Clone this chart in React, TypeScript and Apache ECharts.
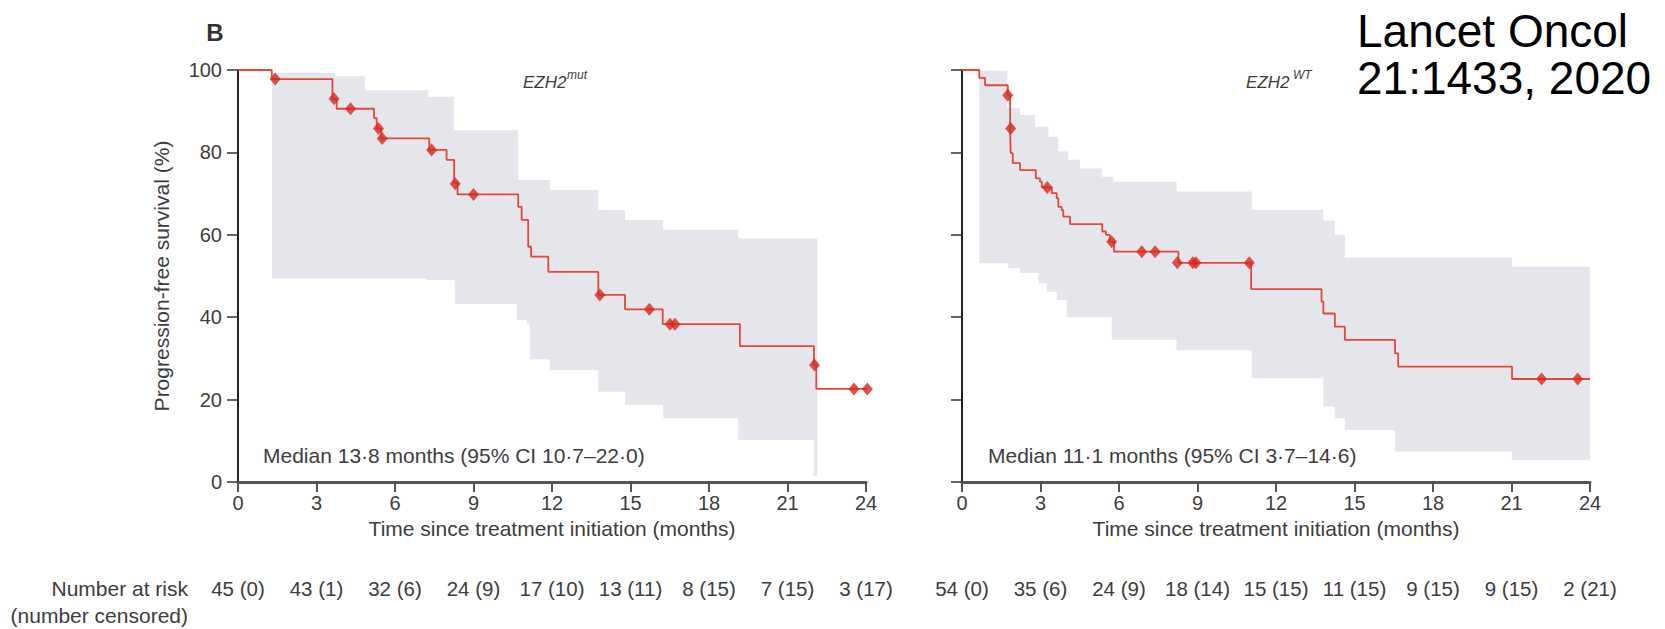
import React, { useEffect, useRef } from "react";
import * as echarts from "echarts";

// ---------------- data ----------------
const MONTH_MIN = 0;
const MONTH_MAX = 24;
const MONTH_STEP = 3;
const PFS_MIN = 0;
const PFS_MAX = 100;
const PFS_STEP = 20;

// EZH2 mutant (left panel): Kaplan-Meier steps (time in months, PFS % after the step)
const MUT_KM_TIME = [0, 1.29, 3.61, 3.77, 5.2, 5.3, 5.47, 7.31, 7.97, 8.26, 8.39, 10.71, 10.84, 11.09, 11.2, 11.86, 13.77, 14.79, 16.23, 19.18, 22.01, 22.1, 24.05];
const MUT_KM_PFS = [100, 97.8, 93.0, 90.6, 88.3, 85.8, 83.4, 80.6, 78.2, 72.6, 69.8, 66.8, 63.6, 57.1, 54.7, 51.0, 45.4, 41.9, 38.3, 33.0, 28.4, 22.6, 22.6];
const MUT_CENSOR_TIME = [1.42, 3.67, 4.3, 5.37, 5.51, 7.4, 8.3, 9.0, 13.83, 15.72, 16.51, 16.7, 22.03, 23.54, 24.05];
const MUT_CENSOR_PFS = [97.8, 93.0, 90.6, 85.8, 83.4, 80.6, 72.4, 69.8, 45.4, 41.9, 38.3, 38.3, 28.4, 22.6, 22.6];
const MUT_CI_UPPER_TIME = [1.3, 3.71, 4.85, 7.27, 8.25, 10.71, 11.92, 13.77, 14.79, 16.25, 19.12];
const MUT_CI_UPPER = [99.3, 98.5, 95.1, 93.5, 85.4, 73.3, 70.9, 66.0, 63.6, 61.2, 59.1];
const MUT_CI_LOWER_TIME = [1.3, 7.21, 8.29, 10.65, 11.03, 11.16, 11.92, 13.77, 14.79, 16.25, 19.12, 22.0];
const MUT_CI_LOWER = [49.4, 49.0, 43.2, 39.3, 38.5, 29.8, 27.2, 21.9, 18.7, 15.5, 10.2, 1.5];
const MUT_CI_END = 22.14;
const MUT_AT_RISK = ["45 (0)", "43 (1)", "32 (6)", "24 (9)", "17 (10)", "13 (11)", "8 (15)", "7 (15)", "3 (17)"];

// EZH2 wild type (right panel)
const WT_KM_TIME = [0, 0.66, 0.88, 1.75, 1.84, 1.86, 1.94, 2.22, 2.82, 2.98, 3.05, 3.43, 3.62, 3.68, 3.81, 3.87, 4.13, 5.36, 5.5, 5.65, 5.81, 8.27, 11.05, 13.74, 13.81, 14.25, 14.63, 16.55, 16.67, 21.02, 24.0];
const WT_KM_PFS = [100, 98.1, 96.3, 93.9, 85.8, 79.8, 77.4, 75.7, 73.7, 72.9, 71.5, 70.1, 68.9, 66.8, 66.0, 64.4, 62.6, 60.8, 60.0, 58.3, 55.9, 53.2, 46.8, 43.8, 40.9, 37.7, 34.5, 31.2, 28.0, 25.0, 25.0];
const WT_CENSOR_TIME = [1.75, 1.86, 3.26, 5.72, 6.87, 7.38, 8.23, 8.82, 8.94, 10.98, 22.15, 23.53];
const WT_CENSOR_PFS = [93.9, 85.8, 71.5, 58.3, 55.9, 55.9, 53.2, 53.2, 53.2, 53.2, 25.0, 25.0];
const WT_CI_UPPER_TIME = [0.66, 1.73, 2.22, 2.79, 3.3, 3.68, 4.06, 4.51, 5.34, 5.78, 8.2, 11.07, 13.81, 14.25, 14.63, 21.02];
const WT_CI_UPPER = [99.8, 90.7, 89.1, 86.2, 83.8, 80.2, 78.2, 76.1, 74.1, 72.9, 70.5, 66.0, 63.5, 60.0, 54.5, 52.3];
const WT_CI_LOWER_TIME = [0.66, 1.77, 2.22, 2.92, 3.24, 3.62, 4.0, 5.72, 8.2, 11.07, 13.81, 14.25, 14.63, 16.55, 21.02];
const WT_CI_LOWER = [53.1, 51.9, 50.7, 48.2, 46.2, 44.2, 40.0, 34.5, 32.0, 25.2, 18.3, 15.5, 12.6, 7.4, 5.3];
const WT_CI_END = 24.0;
const WT_AT_RISK = ["54 (0)", "35 (6)", "24 (9)", "18 (14)", "15 (15)", "11 (15)", "9 (15)", "9 (15)", "2 (21)"];

const MUT_MEDIAN = "Median 13·8 months (95% CI 10·7–22·0)";
const WT_MEDIAN = "Median 11·1 months (95% CI 3·7–14·6)";
const X_TITLE = "Time since treatment initiation (months)";
const Y_TITLE = "Progression-free survival (%)";

// ---------------- style ----------------
const FONT = '"Liberation Sans", Arial, sans-serif';
const TXT = "#3d3d3d";
const RED_LINE = "#e4473b";
const RED_MARK = "#d8271c";
const BAND = "#e5e6eb";

function pairs(t: number[], v: number[]) {
  return t.map((x, i) => [x, v[i]]);
}
function steps(t: number[], v: number[], end: number) {
  const out: number[][] = [];
  for (let i = 0; i < t.length; i++) {
    out.push([t[i], v[i]]);
    out.push([i + 1 < t.length ? t[i + 1] : end, v[i]]);
  }
  return out;
}
function band(ut: number[], uv: number[], lt: number[], lv: number[], end: number) {
  return steps(ut, uv, end).concat(steps(lt, lv, end).reverse());
}

function panelSeries(idx: number, kmT: number[], kmS: number[], cT: number[], cS: number[], poly: number[][]) {
  return [
    {
      type: "custom",
      xAxisIndex: idx,
      yAxisIndex: idx,
      silent: true,
      z: 1,
      clip: false,
      data: [[0, 0]],
      renderItem: (_p: any, api: any) => ({
        type: "polygon",
        shape: { points: poly.map((p) => api.coord(p)) },
        style: { fill: BAND },
      }),
    },
    {
      type: "line",
      xAxisIndex: idx,
      yAxisIndex: idx,
      step: "end",
      showSymbol: false,
      clip: false,
      z: 3,
      data: pairs(kmT, kmS),
      lineStyle: { color: RED_LINE, width: 1.8 },
    },
    {
      type: "scatter",
      xAxisIndex: idx,
      yAxisIndex: idx,
      symbol: "diamond",
      symbolSize: [11, 13],
      clip: false,
      z: 4,
      data: pairs(cT, cS),
      itemStyle: { color: RED_MARK },
    },
  ];
}

function timeAxis(idx: number) {
  return {
    gridIndex: idx,
    type: "value",
    min: MONTH_MIN,
    max: MONTH_MAX,
    interval: MONTH_STEP,
    position: "bottom",
    name: X_TITLE,
    nameLocation: "middle",
    nameGap: 30,
    nameTextStyle: { fontSize: 21, color: TXT, fontFamily: FONT },
    axisLine: { show: true, onZero: false, lineStyle: { color: "#555", width: 3 } },
    axisTick: { show: true, length: 10, lineStyle: { color: "#555", width: 2 } },
    axisLabel: { fontSize: 20, margin: 11, color: TXT, fontFamily: FONT, showMinLabel: true, showMaxLabel: true },
    splitLine: { show: false },
  };
}

function riskAxis(idx: number, labels: string[]) {
  return {
    gridIndex: idx,
    type: "value",
    min: MONTH_MIN,
    max: MONTH_MAX,
    interval: MONTH_STEP,
    position: "bottom",
    offset: 96,
    axisLine: { show: false, onZero: false },
    axisTick: { show: false },
    axisLabel: {
      fontSize: 20.5,
      margin: 0,
      color: TXT,
      fontFamily: FONT,
      showMinLabel: true,
      showMaxLabel: true,
      hideOverlap: false,
      formatter: (v: number) => labels[Math.round(v / MONTH_STEP)] ?? "",
    },
    splitLine: { show: false },
  };
}

function pfsAxis(idx: number, withLabels: boolean) {
  return {
    gridIndex: idx,
    type: "value",
    min: PFS_MIN,
    max: PFS_MAX,
    interval: PFS_STEP,
    name: withLabels ? Y_TITLE : "",
    nameLocation: "middle",
    nameRotate: 90,
    nameGap: 66,
    nameTextStyle: { fontSize: 21, color: TXT, fontFamily: FONT },
    axisLine: { show: true, onZero: false, lineStyle: { color: "#222", width: 2 } },
    axisTick: { show: true, length: 11, lineStyle: { color: "#333", width: 1.5 } },
    axisLabel: { show: withLabels, fontSize: 20, margin: 16, color: TXT, fontFamily: FONT },
    splitLine: { show: false },
  };
}

function txt(x: number, y: number, text: string, extra: any = {}) {
  const style: any = {
    text,
    fill: TXT,
    fontSize: 21,
    fontFamily: FONT,
    align: "left",
    verticalAlign: "middle",
    ...extra,
  };
  style.textAlign = style.align;
  style.textVerticalAlign = style.verticalAlign;
  return { type: "text", x, y, silent: true, style };
}

export default function App() {
  const ref = useRef<HTMLDivElement>(null);
  useEffect(() => {
    if (!ref.current) return;
    const chart = echarts.init(ref.current, null, { renderer: "svg" });
    const mutBand = band(MUT_CI_UPPER_TIME, MUT_CI_UPPER, MUT_CI_LOWER_TIME, MUT_CI_LOWER, MUT_CI_END);
    const wtBand = band(WT_CI_UPPER_TIME, WT_CI_UPPER, WT_CI_LOWER_TIME, WT_CI_LOWER, WT_CI_END);
    chart.setOption({
      animation: false,
      backgroundColor: "#ffffff",
      textStyle: { fontFamily: FONT },
      grid: [
        { left: 238, top: 70, width: 628, height: 412 },
        { left: 962, top: 70, width: 628, height: 412 },
      ],
      xAxis: [timeAxis(0), timeAxis(1), riskAxis(0, MUT_AT_RISK), riskAxis(1, WT_AT_RISK)],
      yAxis: [pfsAxis(0, true), pfsAxis(1, false)],
      series: [
        ...panelSeries(0, MUT_KM_TIME, MUT_KM_PFS, MUT_CENSOR_TIME, MUT_CENSOR_PFS, mutBand),
        ...panelSeries(1, WT_KM_TIME, WT_KM_PFS, WT_CENSOR_TIME, WT_CENSOR_PFS, wtBand),
      ],
      graphic: [
        txt(215, 32, "B", { fontSize: 24, fontWeight: "bold", fill: "#333", align: "center" }),
        txt(523, 82, "EZH2", { fontSize: 17, fontStyle: "italic" }),
        txt(567, 69, "mut", { fontSize: 12, fontStyle: "italic", verticalAlign: "top" }),
        txt(1246, 82, "EZH2", { fontSize: 17, fontStyle: "italic" }),
        txt(1293, 69, "WT", { fontSize: 12, fontStyle: "italic", verticalAlign: "top" }),
        txt(263, 455, MUT_MEDIAN),
        txt(988, 455, WT_MEDIAN),
        txt(188, 588, "Number at risk", { fontSize: 21, align: "right" }),
        txt(188, 615, "(number censored)", { fontSize: 21, align: "right" }),
        txt(1357, 31, "Lancet Oncol", { fontSize: 46, fill: "#000" }),
        txt(1357, 78, "21:1433, 2020", { fontSize: 46, fill: "#000" }),
      ],
    });
    return () => chart.dispose();
  }, []);
  return (
    <div
      ref={ref}
      style={{ position: "fixed", left: 0, top: 0, width: 1665, height: 629, background: "#fff" }}
    />
  );
}
